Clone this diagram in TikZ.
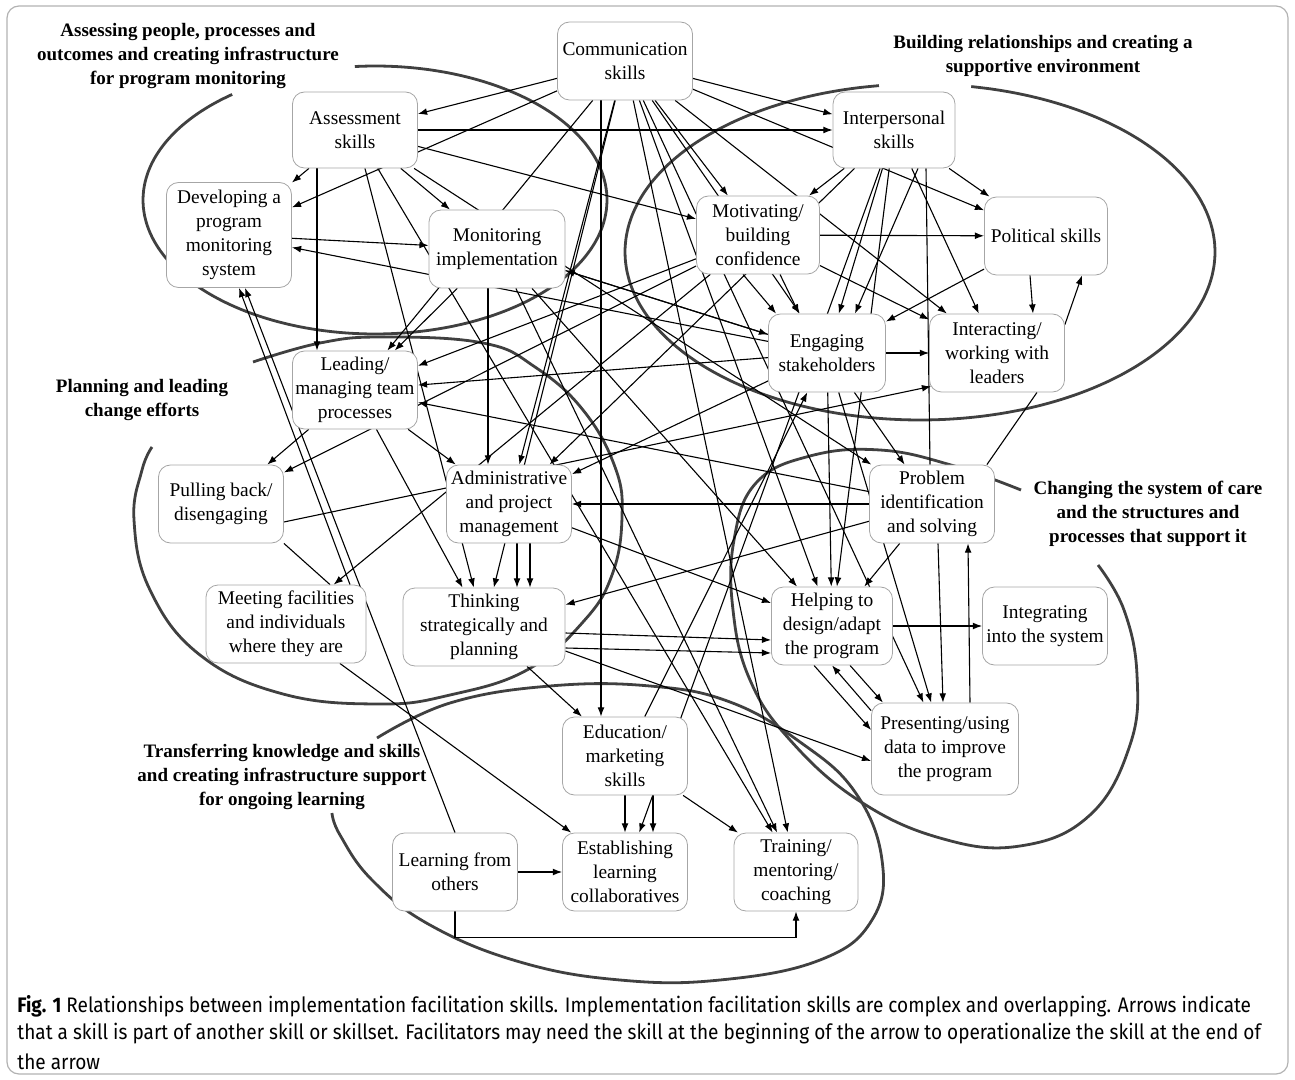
\documentclass[tikz,border=0pt]{standalone}
\usepackage{fontspec}
\setmainfont{Liberation Serif}
\newfontfamily\capfont[FakeStretch=0.906]{Fira Sans}
\usepackage{tikz}
\usetikzlibrary{arrows,arrows.meta}
\pgfdeclarelayer{background}
\pgfsetlayers{background,main}
\newcommand{\skillfont}{\fontsize{9.7}{12}\selectfont}
\newcommand{\groupfont}{\fontsize{9.5}{12}\selectfont\bfseries}

\begin{document}
\begin{tikzpicture}[x=0.5pt, y=-0.5pt,
        skill/.style={draw=gray!70, fill=white, rounded corners=6pt, align=center,
          minimum width=62.5pt, minimum height=39pt, inner sep=1pt, font=\skillfont},
        group/.style={align=center, font=\groupfont, inner sep=0pt},
        region/.style={draw=black!75, line width=1.4pt},
        link/.style={->, line width=0.55pt},
        plain/.style={line width=0.55pt}, >={Latex[length=4.6pt,width=3.4pt]}]
     \useasboundingbox (0,0) rectangle (1295,1080);
     \draw[gray!60, line width=0.6pt, rounded corners=6pt] (7,6) rectangle (1288,1074);

     \node (comm) at (625,61) [skill, minimum width=67.5pt] {Communication\\skills};
     \node (assess) at (355,130) [skill, minimum height=38pt] {Assessment\\skills};
     \node (inter) at (894,130) [skill, minimum width=61pt, minimum height=38pt] {Interpersonal\\skills};
     \node (develop) at (229,235) [skill, minimum height=52.5pt] {Developing a\\program\\monitoring\\system};
     \node (monit) at (497,249) [skill, minimum width=68pt] {Monitoring\\implementation};
     \node (motiv) at (758,235) [skill, minimum width=61.5pt] {Motivating/\\building\\confidence};
     \node (polit) at (1046,236) [skill, minimum width=61.5pt] {Political skills};
     \node (engage) at (827,353) [skill, minimum width=58.5pt] {Engaging\\stakeholders};
     \node (interact) at (997,353) [skill, minimum width=67.5pt] {Interacting/\\working with\\leaders};
     \node (lead) at (355,390) [skill] {Leading/\\managing team\\processes};
     \node (pull) at (221,504) [skill] {Pulling back/\\disengaging};
     \node (admin) at (509,504) [skill] {Administrative\\and project\\management};
     \node (problem) at (932,504) [skill] {Problem\\identification\\and solving};
     \node (meet) at (286,624) [skill, minimum width=80pt] {Meeting facilities\\and individuals\\where they are};
     \node (think) at (484,627) [skill, minimum width=81pt] {Thinking\\strategically and\\planning};
     \node (helping) at (832,626) [skill, minimum width=60.5pt] {Helping to\\design/adapt\\the program};
     \node (integ) at (1045,626) [skill] {Integrating\\into the system};
     \node (present) at (945,749) [skill, minimum width=73.5pt, minimum height=46pt] {Presenting/using\\data to improve\\the program};
     \node (educ) at (625,756) [skill] {Education/\\marketing\\skills};
     \node (establish) at (625,872) [skill] {Establishing\\learning\\collaboratives};
     \node (train) at (796,872) [skill, minimum width=62pt] {Training/\\mentoring/\\coaching};
     \node (learn) at (455,872) [skill] {Learning from\\others};

     \node (gassess) at (188,56) [group] {Assessing people, processes and\\outcomes and creating infrastructure\\for program monitoring};
     \node (gbuild) at (1043,56) [group] {Building relationships and creating a\\supportive environment};
     \node (gplan) at (142,400) [group] {Planning and leading\\change efforts};
     \node (gchange) at (1148,514) [group] {Changing the system of care\\and the structures and\\processes that support it};
     \node (gtransfer) at (282,777) [group] {Transferring knowledge and skills\\and creating infrastructure support\\for ongoing learning};

     \node (cap1) at (17,1006) [anchor=west, inner sep=0pt, font=\capfont\fontsize{10.5}{14}\selectfont]
       {\textbf{Fig. 1} Relationships between implementation facilitation skills. Implementation facilitation skills are complex and overlapping. Arrows indicate};
     \node (cap2) at (17,1034) [anchor=west, inner sep=0pt, font=\capfont\fontsize{10.5}{14}\selectfont]
       {that a skill is part of another skill or skillset. Facilitators may need the skill at the beginning of the arrow to operationalize the skill at the end of};
     \node (cap3) at (17,1062) [anchor=west, inner sep=0pt, font=\capfont\fontsize{10.5}{14}\selectfont] {the arrow};

    \begin{pgfonlayer}{background}
     % skill sets
     \draw[region] plot[domain=-232:95, samples=90, smooth] ({375+232*cos(\x)}, {200-134*sin(\x)});
     \draw[region] plot[domain=-262:80, samples=90, smooth] ({920+295*cos(\x)}, {252-168*sin(\x)});
     \draw[region] plot[smooth, tension=0.7] coordinates {(253,362) (320,343) (383,337) (483,343) (535,367) (583,410) (615,467) (622,517) (612,575) (583,622) (527,670) (450,695) (380,704) (283,694) (200,655) (150,590) (134,520) (142,470) (152,447)};
     \draw[region] plot[smooth, tension=0.7] coordinates {(1021,490) (951,465) (880,450) (810,456) (756,483) (734,540) (733,610) (750,680) (790,740) (858,800) (940,838) (1020,846) (1090,815) (1130,745) (1137,675) (1124,610) (1098,565)};
     \draw[region] plot[smooth, tension=0.7] coordinates {(377,738) (450,703) (550,686) (650,686) (730,702) (800,742) (855,792) (882,860) (872,920) (820,960) (720,980) (620,980) (520,962) (430,925) (372,880) (340,835) (332,813)};

      \draw[link] (comm) -- (assess);
      \draw[link] (comm) -- (inter);
      \draw[link] (comm) -- (develop);
      \draw[link] (comm) -- (motiv);
      \draw[link] (comm) -- (polit);
      \draw[link] (comm) -- (engage);
      \draw[link] (comm) -- (interact);
      \draw[link] (comm) -- (lead);
      \draw[link] (comm) -- (admin);
      \draw[link] (comm) -- (think);
      \draw[link] ([xshift=-12pt]comm.south) -- ([xshift=-12pt]educ.north);
      \draw[link] (comm) -- (train);
      \draw[link] (comm) -- (helping);
      \draw[link] (comm) -- (present);

      \draw[link] (assess) -- (develop);
      \draw[link] (assess) -- (inter);
      \draw[link] (assess) -- (monit);
      \draw[link] ([xshift=-19pt]assess.south) -- ([xshift=-19pt]lead.north);
      \draw[link] (assess) -- (motiv);
      \draw[link] (assess) -- (think);
      \draw[link] (assess) -- (problem);
      \draw[link] (assess) -- (train);

      \draw[link] (inter) -- (motiv);
      \draw[link] (inter) -- (polit);
      \draw[link] (inter) -- (engage);
      \draw[link] ([xshift=12pt]inter.south) -- ([xshift=14pt]engage.north);
      \draw[link] (inter) -- (interact);
      \draw[link] (inter) -- (admin);
      \draw[link] (inter) -- (establish);
      \draw[link] (inter) -- (helping);
      \draw[plain] ([xshift=16pt]inter.south) -- ([xshift=-1pt]problem.north);

      \draw[link] (develop) -- (monit);
      \draw[link] (monit) -- (lead);
      \draw[link] ([xshift=-4.5pt]monit.south) -- ([xshift=-10.5pt]admin.north);
      \draw[link] (monit) -- (engage);
      \draw[link] (monit) -- (helping);
      \draw[link] (monit) -- (train);

      \draw[link] ([xshift=-7.5pt]motiv.south) -- ([xshift=4pt]engage.north west);
      \draw[link] ([xshift=11pt]motiv.south) -- ([xshift=-14pt]engage.north);
      \draw[link] (motiv) -- (polit);
      \draw[link] (motiv) -- (interact);
      \draw[link] (motiv) -- (lead);
      \draw[link] (motiv) -- (pull);
      \draw[link] (motiv) -- (meet);

      \draw[link] (polit) -- (engage);
      \draw[link] ([xshift=-8pt]polit.south) -- ([xshift=18pt]interact.north);
      \draw[link] ([yshift=-5.5pt]interact.north east) -- ([xshift=18pt]polit.south);

      \draw[link] (engage) -- (interact);
      \draw[link] (engage) -- (develop);
      \draw[link] (engage) -- (monit);
      \draw[link] (engage) -- (lead);
      \draw[link] (engage) -- (admin);
      \draw[link] (engage) -- (problem);
      \draw[link] (engage) -- (helping);
      \draw[link] (engage) -- (present);

      \draw[link] (problem) -- (lead);
      \draw[link] (problem) -- (admin);
      \draw[link] (problem) -- (think);
      \draw[link] (problem) -- (helping);
      \draw[link] ([xshift=3pt]problem.south) -- ([xshift=-1pt]present.north);
      \draw[link] ([xshift=12.5pt]present.north) -- ([xshift=18pt]problem.south);
      \draw[plain] ([xshift=-4pt]problem.north east) -- ([xshift=20pt]interact.south);

      \draw[link] (helping) -- (integ);
      \draw[link] ([xshift=-9pt]helping.south) -- ([yshift=9.5pt]present.west);
      \draw[link] ([xshift=9pt]helping.south) -- ([xshift=-31pt]present.north);
      \draw[link] ([yshift=-4pt]present.north west) -- (helping.south);

      \draw[link] (lead) -- (pull);
      \draw[link] (lead) -- (think);
      \draw[link] (lead) -- (admin);
      \draw[link] ([yshift=-9pt]pull.east) -- ([xshift=1pt,yshift=3pt]interact.south west);

      \draw[link] (admin) -- (helping);
      \draw[link] ([xshift=4pt]admin.south) -- ([xshift=16.5pt]think.north);
      \draw[link] ([xshift=10.5pt]admin.south) -- ([xshift=23pt]think.north);

      \draw[link] ([yshift=-3pt]think.east) -- ([yshift=-7pt]helping.west);
      \draw[link] ([yshift=-10.5pt]think.east) -- ([yshift=-13.5pt]helping.west);
      \draw[link] ([yshift=-12pt]think.east) -- ([yshift=-6pt]present.west);
      \draw[link] (think) -- (educ);

      \draw[link] ([xshift=32pt]meet.north) -- ([xshift=5pt]develop.south);
      \draw[plain] ([xshift=22pt]meet.north) -- (pull.south east);
      \draw[link] (meet) -- (establish);

      \draw[link] (learn.north) -- ([xshift=8pt]develop.south);
      \draw[link] (learn) -- (establish);
      \draw[link] (learn.south) -- ++(0,26) -| (train.south);

      \draw[link] (educ.south) -- (establish.north);
      \draw[link] ([xshift=14pt]educ.south) -- ([xshift=14pt]establish.north);
      \draw[link] (educ) -- (train);
      \draw[link] (educ) -- (engage);
    \end{pgfonlayer}
    \end{tikzpicture}
\end{document}
